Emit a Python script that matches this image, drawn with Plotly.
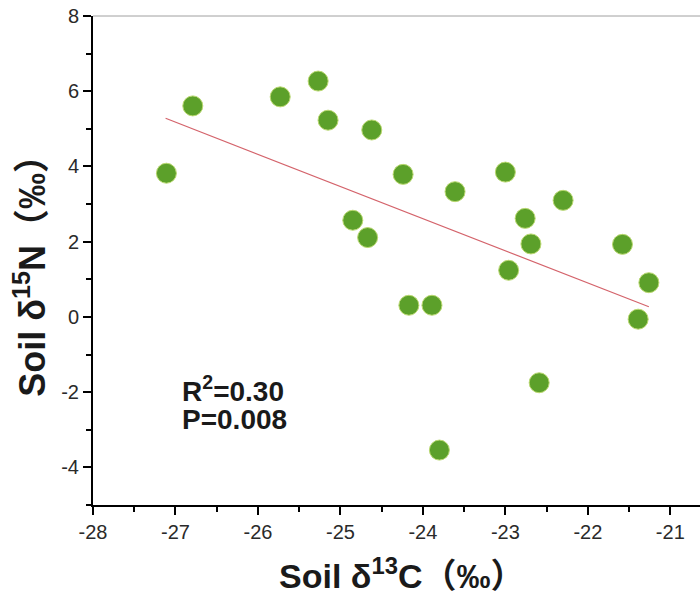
import plotly.graph_objects as go

# Data
soil_d13c = [-27.11, -26.79, -25.73, -25.27, -25.15, -24.62, -24.24, -23.61, -23.00, -22.30,
             -22.76, -22.69, -21.58, -22.96, -21.26, -24.85, -24.67, -24.17, -23.89, -21.39,
             -22.59, -23.80]
soil_d15n = [3.82, 5.61, 5.85, 6.27, 5.23, 4.97, 3.79, 3.33, 3.85, 3.10,
             2.62, 1.94, 1.93, 1.24, 0.91, 2.57, 2.11, 0.31, 0.31, -0.06,
             -1.75, -3.54]
fit_x = [-27.12, -21.26]
fit_y = [5.28, 0.27]
x_ticks = [-28, -27, -26, -25, -24, -23, -22, -21]
y_ticks = [-4, -2, 0, 2, 4, 6, 8]
stats_lines = ["R<sup>2</sup>=0.30", "P=0.008"]
x_title = "<b>Soil δ<sup>13</sup>C（‰）</b>"
y_title = "<b>Soil δ<sup>15</sup>N（‰）</b>"

FONT = "Arial, Liberation Sans, Noto Sans CJK SC, sans-serif"

fig = go.Figure()
fig.add_trace(go.Scatter(
    x=fit_x, y=fit_y, mode="lines",
    line=dict(color="#d4636b", width=1.2), showlegend=False, hoverinfo="skip"))
fig.add_trace(go.Scatter(
    x=soil_d13c, y=soil_d15n, mode="markers",
    marker=dict(size=20, color="#5ca02a", line=dict(color="#b9d870", width=1)),
    showlegend=False))

axis_common = dict(
    showgrid=False, zeroline=False,
    showline=True, linecolor="black", linewidth=2,
    ticks="outside", ticklen=8, tickwidth=2, tickcolor="black",
    tickfont=dict(family=FONT, size=20, color="#2a2a2a"),
)
fig.update_xaxes(range=[-28, -20.64], tickvals=x_ticks, ticktext=[str(v) for v in x_ticks],
                 minor=dict(dtick=0.5, tick0=-28, ticks="outside", ticklen=5, tickwidth=2, tickcolor="black"),
                 **axis_common)
fig.update_yaxes(range=[-5, 8], tickvals=y_ticks, ticktext=[str(v) for v in y_ticks],
                 minor=dict(dtick=1, tick0=-5, ticks="outside", ticklen=5, tickwidth=2, tickcolor="black"),
                 **axis_common)

# top border line
fig.add_shape(type="line", xref="paper", yref="paper", x0=0, x1=1, y0=1, y1=1,
              line=dict(color="#a0a0a0", width=1))

# stats annotations
for txt, yv in zip(stats_lines, [-1.92, -2.72]):
    fig.add_annotation(x=-26.94, y=yv, xref="x", yref="y", text="<b>" + txt + "</b>",
                       showarrow=False, xanchor="left", yanchor="middle",
                       font=dict(family=FONT, size=28, color="#1a1a1a"))

# axis titles
fig.add_annotation(x=0.509, y=-0.141, xref="paper", yref="paper", text=x_title,
                   showarrow=False, xanchor="center", yanchor="middle",
                   font=dict(family=FONT, size=34, color="#1a1a1a"))
fig.add_annotation(x=-0.105, y=0.4877, xref="paper", yref="paper", text=y_title,
                   showarrow=False, xanchor="center", yanchor="middle", textangle=-90,
                   font=dict(family=FONT, size=36, color="#1a1a1a"))

fig.update_layout(
    width=700, height=594,
    margin=dict(l=93, r=0, t=16, b=89, pad=0),
    plot_bgcolor="white", paper_bgcolor="white",
)

fig.write_html("out.html")
